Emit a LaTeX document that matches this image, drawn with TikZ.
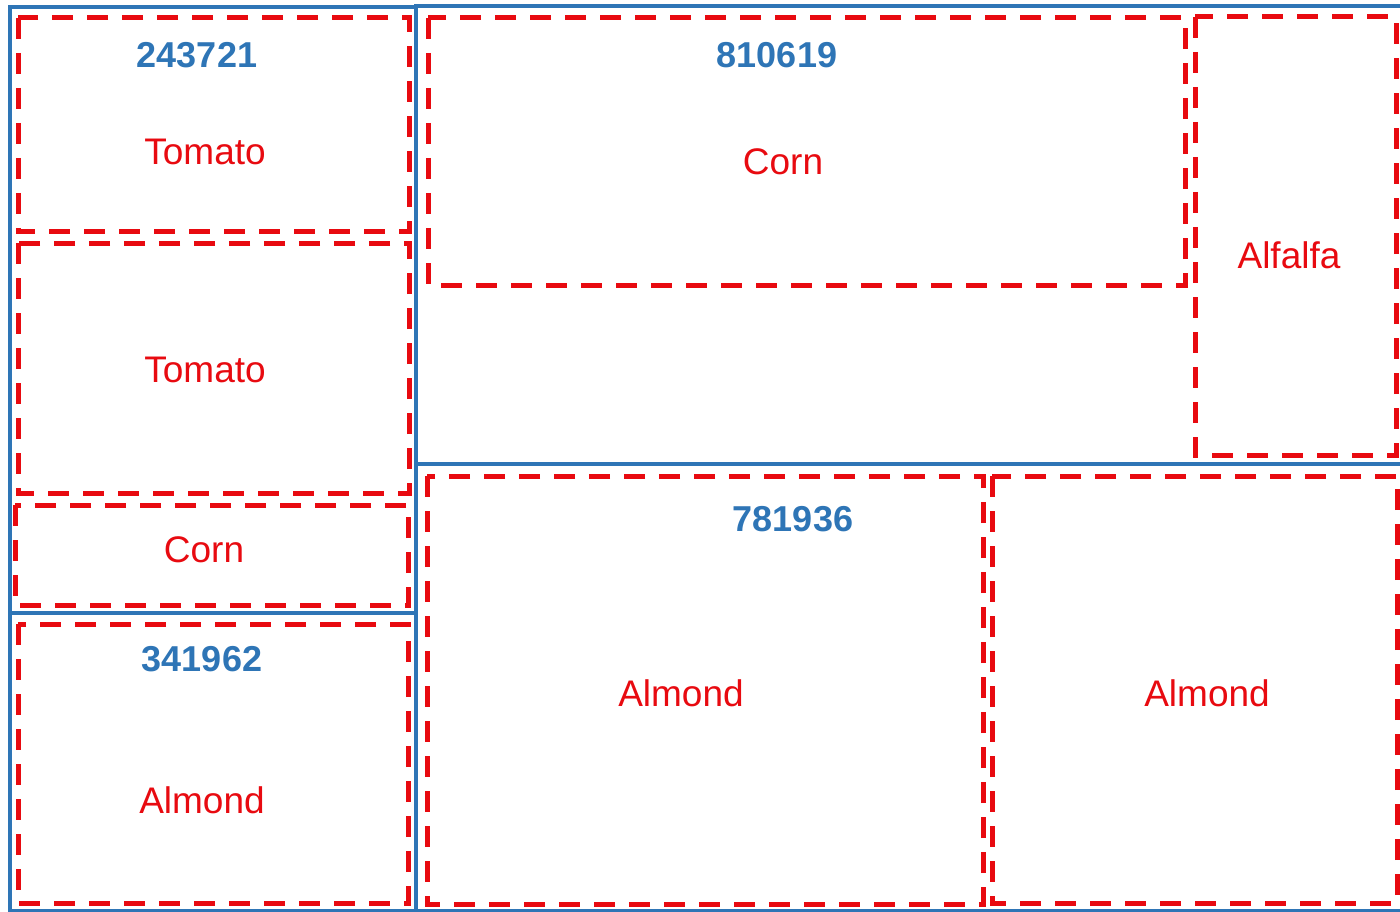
\documentclass[tikz,border=0pt]{standalone}
\usepackage{fontspec}
\setmainfont{Liberation Sans}
\definecolor{plotblue}{RGB}{46,117,182}
\definecolor{cropred}{RGB}{232,10,16}
\tikzset{
  plot/.style={draw=plotblue, line width=4.5pt},
  crop/.style={draw=cropred, line width=5pt, dash pattern=on 21pt off 14pt},
  plotid/.style={text=plotblue, font=\fontsize{36}{40}\selectfont\bfseries, inner sep=0pt},
  croplabel/.style={text=cropred, font=\fontsize{37}{42}\selectfont, inner sep=0pt},
}
\begin{document}
\begin{tikzpicture}[x=1pt,y=-1pt]
\useasboundingbox (0,0) rectangle (1400,912);
\fill[white] (0,0) rectangle (1400,912);
% crop boundaries (red dashed)
\draw[crop] (18,18) rectangle (409,232);
\draw[crop] (18,243) rectangle (409,493);
\draw[crop] (15,505) rectangle (408,605);
\draw[crop] (18,624) rectangle (408,903);
\draw[crop] (428,18) rectangle (1185,285);
\draw[crop] (1195,17) rectangle (1396,455);
\draw[crop] (427,476) rectangle (983,904);
\draw[crop] (992,476) rectangle (1397,903);
% plot boundaries (blue)
\draw[plot] (10,7) rectangle (416,613);
\draw[plot] (10,613) rectangle (416,911);
\draw[plot] (416,6) rectangle (1403,464);
\draw[plot] (416,464) rectangle (1403,911);
% labels
\node[plotid] (p1) at (197,55) {243721};
\node[plotid] (p2) at (202,659) {341962};
\node[plotid] (p3) at (777,55) {810619};
\node[plotid] (p4) at (793,519) {781936};
\node[croplabel] (c1) at (205,152) {Tomato};
\node[croplabel] (c2) at (205,370) {Tomato};
\node[croplabel] (c3) at (204,550) {Corn};
\node[croplabel] (c4) at (202,800) {Almond};
\node[croplabel] (c5) at (783,162) {Corn};
\node[croplabel] (c6) at (1289,255) {Alfalfa};
\node[croplabel] (c7) at (681,693) {Almond};
\node[croplabel] (c8) at (1207,693) {Almond};
\end{tikzpicture}
\end{document}
